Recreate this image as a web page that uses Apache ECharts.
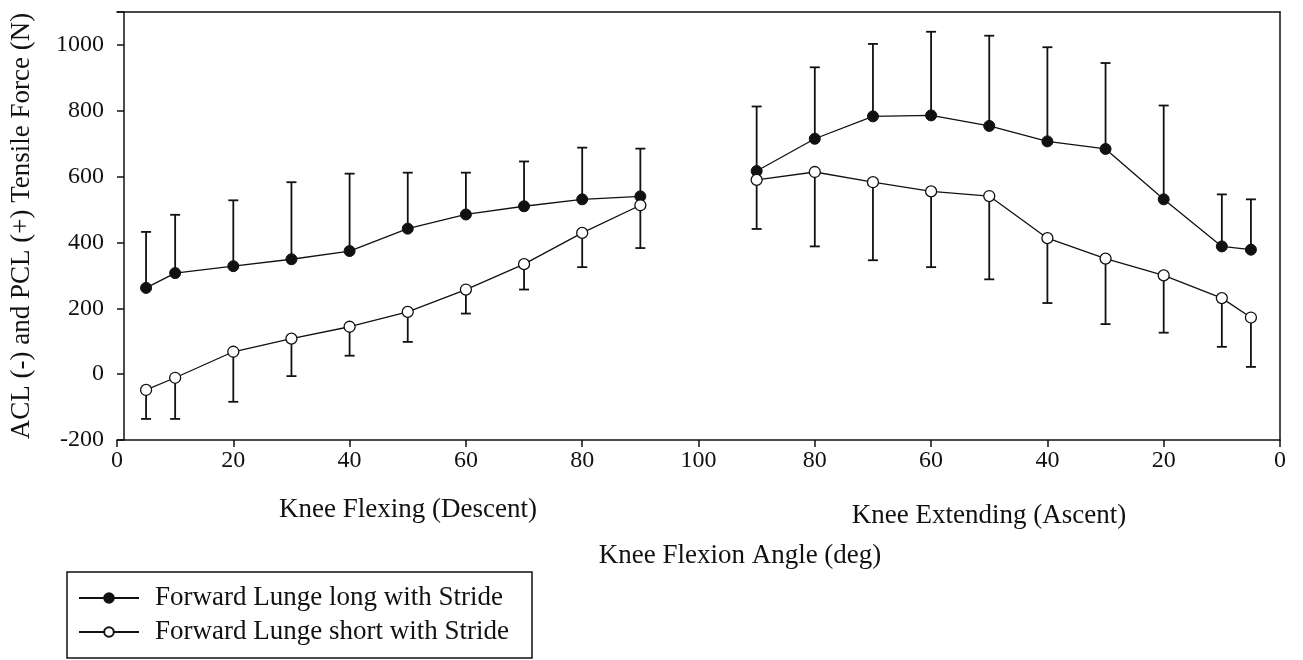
<!DOCTYPE html>
<html>
<head>
<meta charset="utf-8">
<script src="https://cdn.jsdelivr.net/npm/echarts@6/dist/echarts.min.js"></script>
<style>
html,body{margin:0;padding:0;background:#fff;}
#chart{width:1303px;height:660px;}
</style>
</head>
<body>
<div id="chart"></div>
<script>
// ---- Data (knee flexion angle in degrees) ----
const descentAngles = [5, 10, 20, 30, 40, 50, 60, 70, 80, 90];
const ascentAngles  = [90, 80, 70, 60, 50, 40, 30, 20, 10, 5];

const longDescentMean  = [262, 307, 328, 349, 374, 442, 485, 510, 531, 540];
const longDescentUpper = [432, 484, 528, 583, 609, 612, 612, 646, 688, 685];
const shortDescentMean  = [-48, -11, 68, 108, 144, 189, 257, 334, 429, 513];
const shortDescentLower = [-136, -136, -84, -6, 56, 98, 184, 257, 325, 383];

const longAscentMean  = [617, 715, 783, 786, 754, 707, 684, 531, 388, 378];
const longAscentUpper = [813, 932, 1003, 1040, 1028, 993, 945, 816, 546, 531];
const shortAscentMean  = [590, 614, 583, 555, 541, 413, 351, 300, 231, 172];
const shortAscentLower = [441, 388, 346, 325, 288, 216, 152, 126, 83, 22];

const xTickValues = [0, 20, 40, 60, 80, 100, 80, 60, 40, 20, 0];
const yTicks = [-200, 0, 200, 400, 600, 800, 1000];

const seriesNames = ['Forward Lunge long with Stride', 'Forward Lunge short with Stride'];
const xTitle = 'Knee Flexion Angle (deg)';
const yTitle = 'ACL (-) and PCL (+) Tensile Force (N)';
const descentLabel = 'Knee Flexing (Descent)';
const ascentLabel = 'Knee Extending (Ascent)';

// ---- Build positions on a 0..200 axis (ascent mirrored) ----
const descX = descentAngles.slice();
const ascX = ascentAngles.map(a => 200 - a);

const longData = descX.map((x, i) => [x, longDescentMean[i]])
  .concat([[100, '-']])
  .concat(ascX.map((x, i) => [x, longAscentMean[i]]));
const shortData = descX.map((x, i) => [x, shortDescentMean[i]])
  .concat([[100, '-']])
  .concat(ascX.map((x, i) => [x, shortAscentMean[i]]));

const longErr = descX.map((x, i) => [x, longDescentMean[i], longDescentUpper[i]])
  .concat(ascX.map((x, i) => [x, longAscentMean[i], longAscentUpper[i]]));
const shortErr = descX.map((x, i) => [x, shortDescentMean[i], shortDescentLower[i]])
  .concat(ascX.map((x, i) => [x, shortAscentMean[i], shortAscentLower[i]]));

const FONT = '"Liberation Serif", "Times New Roman", serif';
const INK = '#111';
const TITLE_FONT = '27px ' + FONT;

function errRender(params, api) {
  const x = api.value(0);
  const p0 = api.coord([x, api.value(1)]);
  const p1 = api.coord([x, api.value(2)]);
  const cap = 5;
  return {
    type: 'group',
    children: [
      { type: 'line', shape: { x1: p0[0], y1: p0[1], x2: p1[0], y2: p1[1] },
        style: { stroke: INK, lineWidth: 1.8 } },
      { type: 'line', shape: { x1: p1[0] - cap, y1: p1[1], x2: p1[0] + cap, y2: p1[1] },
        style: { stroke: INK, lineWidth: 1.8 } }
    ]
  };
}

const axisLineStyle = { color: INK, width: 1.5 };

const chart = echarts.init(document.getElementById('chart'), null, { renderer: 'canvas' });
chart.setOption({
  animation: false,
  backgroundColor: '#fff',
  grid: [
    { left: 117, right: 23, top: 12, bottom: 220, containLabel: false },
    { left: 124, right: 23, top: 12, bottom: 220, containLabel: false }
  ],
  xAxis: [{
    gridIndex: 0, type: 'value', min: 0, max: 200, interval: 20,
    axisLine: { onZero: false, lineStyle: axisLineStyle },
    axisTick: { show: true, length: 7, lineStyle: axisLineStyle },
    axisLabel: {
      color: INK, fontFamily: FONT, fontSize: 24, margin: 9,
      formatter: v => String(v <= 100 ? v : 200 - v)
    },
    splitLine: { show: false }
  }, {
    gridIndex: 0, type: 'value', position: 'top', min: 0, max: 200,
    axisLine: { show: true, onZero: false, lineStyle: axisLineStyle },
    axisTick: { show: false }, axisLabel: { show: false }, splitLine: { show: false }
  }, {
    gridIndex: 1, type: 'value', min: 0, max: 200, show: false
  }],
  yAxis: [{
    gridIndex: 0, type: 'value', min: -200, max: 1100, interval: 200,
    axisLine: { show: false }, axisTick: { show: false }, axisLabel: { show: false },
    splitLine: { show: false }
  }, {
    gridIndex: 0, type: 'value', position: 'right', min: -200, max: 1100,
    axisLine: { show: true, onZero: false, lineStyle: axisLineStyle },
    axisTick: { show: false }, axisLabel: { show: false }, splitLine: { show: false }
  }, {
    gridIndex: 1, type: 'value', position: 'left', min: -200, max: 1100, interval: 200,
    axisLine: { show: true, onZero: false, lineStyle: axisLineStyle },
    axisTick: { show: true, length: 7, lineStyle: axisLineStyle },
    axisLabel: {
      color: INK, fontFamily: FONT, fontSize: 24, margin: 20,
      formatter: v => (yTicks.indexOf(v) >= 0 ? String(v) : '')
    },
    splitLine: { show: false }
  }],
  legend: {
    show: true, orient: 'vertical', left: 78, top: 583,
    padding: 0, itemGap: 4, itemWidth: 60, itemHeight: 12,
    data: seriesNames,
    textStyle: { color: INK, fontFamily: FONT, fontSize: 27, lineHeight: 30, padding: [0, 0, 0, 11] }
  },
  graphic: [
    { type: 'rect', shape: { x: 67, y: 572, width: 465, height: 86 },
      style: { fill: 'none', stroke: INK, lineWidth: 1.5 }, z: 0 },
    { type: 'text', x: 22, y: 226, rotation: Math.PI / 2,
      style: { text: yTitle, fill: INK, font: TITLE_FONT, textAlign: 'center', textVerticalAlign: 'middle' } },
    { type: 'text', x: 408, y: 510,
      style: { text: descentLabel, fill: INK, font: TITLE_FONT, textAlign: 'center', textVerticalAlign: 'middle' } },
    { type: 'text', x: 989, y: 516,
      style: { text: ascentLabel, fill: INK, font: TITLE_FONT, textAlign: 'center', textVerticalAlign: 'middle' } },
    { type: 'text', x: 740, y: 556,
      style: { text: xTitle, fill: INK, font: TITLE_FONT, textAlign: 'center', textVerticalAlign: 'middle' } }
  ],
  series: [
    { type: 'custom', name: 'errLong', xAxisIndex: 0, yAxisIndex: 0, renderItem: errRender, data: longErr,
      encode: { x: 0, y: [1, 2] }, z: 1, silent: true },
    { type: 'custom', name: 'errShort', xAxisIndex: 0, yAxisIndex: 0, renderItem: errRender, data: shortErr,
      encode: { x: 0, y: [1, 2] }, z: 1, silent: true },
    { type: 'line', name: seriesNames[0], xAxisIndex: 0, yAxisIndex: 0, data: longData, connectNulls: false,
      symbol: 'circle', symbolSize: 11, showSymbol: true,
      lineStyle: { color: INK, width: 1.3 },
      itemStyle: { color: INK, borderColor: INK, borderWidth: 1 }, z: 3 },
    { type: 'line', name: seriesNames[1], xAxisIndex: 0, yAxisIndex: 0, data: shortData, connectNulls: false,
      symbol: 'circle', symbolSize: 11, showSymbol: true,
      lineStyle: { color: INK, width: 1.3 },
      itemStyle: { color: '#fff', borderColor: INK, borderWidth: 1.3 }, z: 3 }
  ]
});
</script>
</body>
</html>
